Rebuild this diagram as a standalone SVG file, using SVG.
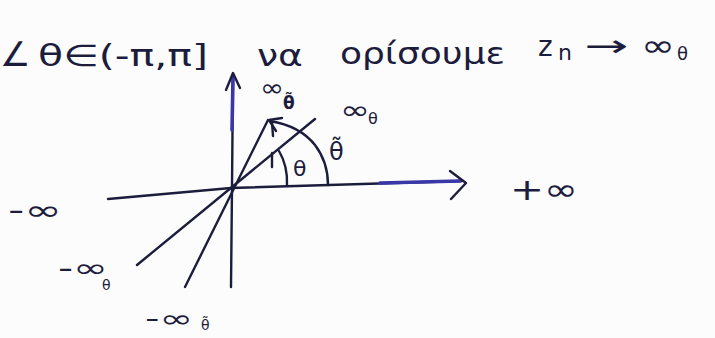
<svg xmlns="http://www.w3.org/2000/svg" width="715" height="338" viewBox="0 0 715 338">
<style>
.ink{fill:none;stroke:#1c1c3c;stroke-width:2.4;stroke-linecap:round;stroke-linejoin:round}
.blue{fill:none;stroke:#3a38a8;stroke-width:3.6;stroke-linecap:round}
.t{font-family:"DejaVu Sans",sans-serif;fill:#1c1c3c}
</style>
<rect width="715" height="338" fill="#fcfcfc"/>
<g id="heading">
<text class="t" x="0" y="66" font-size="34">∠</text>
<text class="t" x="38" y="66" font-size="30" textLength="170" lengthAdjust="spacingAndGlyphs">θ∈(-π,π]</text>
<text class="t" x="257" y="66" font-size="30" textLength="46" lengthAdjust="spacingAndGlyphs">να</text>
<text class="t" x="340" y="64" font-size="30" textLength="165" lengthAdjust="spacingAndGlyphs">ορίσουμε</text>
<text class="t" x="538" y="56" font-size="28">z</text>
<text class="t" x="558" y="60" font-size="22">n</text>
<text class="t" x="584" y="56" font-size="30" textLength="44" lengthAdjust="spacingAndGlyphs">→</text>
<text class="t" x="641" y="56" font-size="30" textLength="34" lengthAdjust="spacingAndGlyphs">∞</text>
<text class="t" x="677" y="60" font-size="18">θ</text>
</g>
<g id="axes">
<polyline class="ink" points="108,199 231,188 462,181"/>
<polyline class="blue" points="380,183 460,181"/>
<polyline class="ink" points="450,171 466,183 451,199"/>
<polyline class="ink" points="231,287 232,188 233,74"/>
<polyline class="blue" points="232,130 233,78"/>
<polyline class="ink" points="226,90 233,73 240,88"/>
</g>
<g id="rays">
<line class="ink" x1="137" y1="265" x2="315" y2="119"/>
<line class="ink" x1="185" y1="287" x2="268" y2="120"/>
<line class="ink" x1="272" y1="153" x2="272" y2="167"/>
<line class="ink" x1="272" y1="123" x2="273" y2="136"/>
</g>
<g id="arcs">
<path class="ink" d="M270,121 Q300,126 315,145 Q328,162 328,185"/>
<polyline class="ink" points="282,118 269,120 276,131"/>
<path class="ink" d="M279,151 Q288,166 287,186"/>
</g>
<g id="labels">
<text class="t" x="293" y="176" font-size="22">θ</text>
<text class="t" x="329" y="160" font-size="24">θ̃</text>
<text class="t" x="340" y="119" font-size="26" textLength="30" lengthAdjust="spacingAndGlyphs">∞</text>
<text class="t" x="368" y="124" font-size="16">θ</text>
<text class="t" x="260" y="96" font-size="24" textLength="24" lengthAdjust="spacingAndGlyphs">∞</text>
<text class="t" x="283" y="109" font-size="17" font-weight="bold">θ̃</text>
<text class="t" x="510" y="200" font-size="30" textLength="68" lengthAdjust="spacingAndGlyphs">+∞</text>
<text class="t" x="8" y="220" font-size="28" textLength="54" lengthAdjust="spacingAndGlyphs">-∞</text>
<text class="t" x="58" y="277" font-size="26" textLength="50" lengthAdjust="spacingAndGlyphs">-∞</text>
<text class="t" x="102" y="290" font-size="14">θ</text>
<text class="t" x="145" y="327" font-size="24" textLength="48" lengthAdjust="spacingAndGlyphs">-∞</text>
<text class="t" x="201" y="330" font-size="14">θ̃</text>
</g>
</svg>
